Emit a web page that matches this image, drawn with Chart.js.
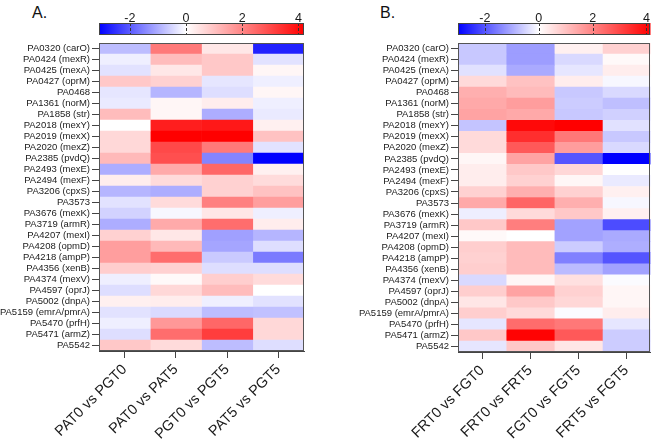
<!DOCTYPE html>
<html><head><meta charset="utf-8">
<script src="https://cdn.jsdelivr.net/npm/chart.js@4"></script>
<style>
body{margin:0;background:#fff;width:667px;height:448px;overflow:hidden;position:relative;font-family:Arial,"Liberation Sans",sans-serif}
canvas{position:absolute;top:0}
#ca{left:0}
#cb{left:333px}
.ttl{position:absolute;font-size:16px;line-height:16px;top:5px;color:#111;font-family:Arial,"Liberation Sans",sans-serif}
</style></head><body>
<div class="ttl" style="left:32px">A.</div>
<div class="ttl" style="left:380px">B.</div>
<canvas id="ca" width="333" height="448"></canvas>
<canvas id="cb" width="334" height="448"></canvas>
<script>
const genes = ['PA0320 (carO)','PA0424 (mexR)','PA0425 (mexA)','PA0427 (oprM)','PA0468','PA1361 (norM)','PA1858 (str)','PA2018 (mexY)','PA2019 (mexX)','PA2020 (mexZ)','PA2385 (pvdQ)','PA2493 (mexE)','PA2494 (mexF)','PA3206 (cpxS)','PA3573','PA3676 (mexK)','PA3719 (armR)','PA4207 (mexI)','PA4208 (opmD)','PA4218 (ampP)','PA4356 (xenB)','PA4374 (mexV)','PA4597 (oprJ)','PA5002 (dnpA)','PA5159 (emrA/pmrA)','PA5470 (prfH)','PA5471 (armZ)','PA5542'];

const colsA = ['PAT0 vs PGT0','PAT0 vs PAT5','PGT0 vs PGT5','PAT5 vs PGT5'];
const colsB = ['FRT0 vs FGT0','FRT0 vs FRT5','FGT0 vs FGT5','FRT5 vs FGT5'];

// Panel A log2 fold changes
const A_PAT0_PGT0 = [-0.8,-0.2,-0.35,0.9,-0.3,-0.25,1.1,0.0,0.65,0.65,1.15,-1.0,0.3,-0.9,-0.35,-0.55,-1.0,0.75,1.6,1.6,0.8,-0.2,-0.4,0.25,-0.35,-0.2,-0.4,0.9];
const A_PAT0_PAT5 = [2.2,1.1,0.4,0.75,-0.9,0.15,0.15,3.7,4.2,3.0,2.9,1.4,0.6,-1.0,0.6,-0.1,1.4,0.4,1.15,2.4,0.75,0.1,0.65,0.3,-0.45,1.7,2.4,0.6];
const A_PGT0_PGT5 = [0.4,0.9,0.9,-0.3,-0.4,0.3,-1.0,3.8,4.2,2.2,-1.5,2.5,0.75,0.75,2.1,0.4,2.4,-1.15,-1.1,-0.65,-0.4,0.8,1.1,-0.2,-0.8,2.5,3.2,-0.8];
const A_PAT5_PGT5 = [-2.7,-0.35,0.15,-0.2,0.15,-0.2,-0.25,0.25,1.0,-0.35,-3.1,0.25,0.6,1.0,1.6,-0.2,0.3,-0.9,-0.4,-1.6,-0.4,0.6,0.0,-0.35,-0.75,0.65,0.65,-0.4];

// Panel B log2 fold changes
const B_FRT0_FGT0 = [-0.65,-0.65,-0.35,0.6,1.3,1.4,1.5,-0.7,0.6,0.6,0.15,0.3,0.3,0.75,1.4,-0.2,0.9,0.1,0.8,0.75,0.8,-0.45,0.8,0.4,0.8,-0.3,0.9,-0.3];
const B_FRT0_FRT5 = [-1.15,-1.15,-1.0,1.0,1.1,1.6,1.4,4.0,3.4,2.7,1.5,0.9,0.75,1.3,2.5,0.6,2.1,0.0,1.1,1.1,1.1,0.15,1.5,0.9,0.6,2.4,4.1,0.9];
const B_FGT0_FGT5 = [0.25,-0.45,-0.3,0.3,-0.65,-0.6,-0.65,4.2,2.2,1.6,-2.0,0.65,0.15,0.75,1.3,0.9,-1.1,-1.1,-0.6,-1.5,-0.8,0.5,0.75,0.65,-0.05,2.2,2.7,0.4];
const B_FRT5_FGT5 = [0.75,0.1,0.3,-0.1,-0.45,-0.75,-0.55,-0.35,-0.65,-0.45,-3.0,0.0,-0.25,0.25,-0.1,0.25,-2.1,-1.0,-0.95,-2.0,-1.1,-0.05,0.15,0.15,0.3,-0.3,-0.6,-0.6];

const cbTicks = [-2, 0, 2, 4];
const rangeA = [-3.1, 4.2];
const rangeB = [-3.0, 4.15];

const FONT = 'Arial, "Liberation Sans", sans-serif';

function heat(v, lo, hi) {
  if (v >= 0) {
    const t = Math.min(1, v / hi);
    const g = Math.round(255 * (1 - t));
    return `rgb(255,${g},${g})`;
  }
  const t = Math.min(1, v / lo);
  const g = Math.round(255 * (1 - t));
  return `rgb(${g},${g},255)`;
}

const framePlugin = {
  id: 'frame',
  afterDraw(chart) {
    const ctx = chart.ctx;
    const a = chart.chartArea;
    const s = chart.scales.cb;
    const x0 = s.getPixelForValue(s.min), x1 = s.getPixelForValue(s.max);
    const y0 = 23, y1 = 35;
    ctx.save();
    const g = ctx.createLinearGradient(x0, 0, x1, 0);
    const z = (0 - s.min) / (s.max - s.min);
    g.addColorStop(0, 'rgb(0,0,255)');
    g.addColorStop(z, 'rgb(255,255,255)');
    g.addColorStop(1, 'rgb(255,0,0)');
    ctx.fillStyle = g;
    ctx.fillRect(x0, y0, x1 - x0, y1 - y0);
    ctx.strokeStyle = '#333';
    ctx.lineWidth = 1;
    ctx.setLineDash([3, 2]);
    cbTicks.forEach(v => {
      const px = Math.round(s.getPixelForValue(v)) + 0.5;
      ctx.beginPath(); ctx.moveTo(px, y0); ctx.lineTo(px, y1); ctx.stroke();
    });
    ctx.setLineDash([]);
    ctx.strokeStyle = '#444';
    ctx.strokeRect(Math.round(x0) + 0.5, y0 + 0.5, Math.round(x1 - x0) - 1, y1 - y0 - 1);
    ctx.strokeStyle = '#555';
    ctx.strokeRect(Math.round(a.left) + 0.5, Math.round(a.top) + 0.5, Math.round(a.right - a.left) - 1, Math.round(a.bottom - a.top) - 1);
    ctx.restore();
  }
};

function makeChart(id, cols, series, range, yWidth, rightPad, bottom) {
  new Chart(document.getElementById(id), {
    type: 'bar',
    data: {
      labels: genes,
      datasets: series.map((vals, c) => ({
        label: cols[c],
        data: vals.map(() => [c, c + 1]),
        backgroundColor: vals.map(v => heat(v, range[0], range[1])),
        borderWidth: 0,
        barPercentage: 1,
        categoryPercentage: 1,
        grouped: false
      }))
    },
    options: {
      indexAxis: 'y',
      responsive: false,
      animation: false,
      layout: { padding: { left: 0, right: rightPad, top: 0, bottom: 0 } },
      plugins: { legend: { display: false }, tooltip: { enabled: false } },
      scales: {
        y: {
          type: 'category',
          offset: true,
          grid: { display: true, drawOnChartArea: false, drawTicks: true, tickLength: 7, offset: false, color: '#444' },
          border: { display: true, color: '#444' },
          ticks: { font: { size: 9.5, family: FONT }, color: '#1a1a1a', padding: 2, autoSkip: false },
          afterFit(s) { s.width = yWidth; }
        },
        x: {
          type: 'linear', min: 0, max: 4, position: 'bottom',
          grid: { display: true, drawOnChartArea: false, tickLength: 7, color: '#444' },
          border: { display: true, color: '#444' },
          ticks: { font: { size: 14.5, family: FONT }, color: '#1a1a1a', maxRotation: 45, minRotation: 45, padding: 3,
                   callback: (v) => cols[Math.floor(v)] },
          afterBuildTicks(s) { s.ticks = [0.5, 1.5, 2.5, 3.5].map(v => ({ value: v })); },
          afterFit(s) { s.height = 448 - bottom; }
        },
        cb: {
          type: 'linear', axis: 'x', position: 'top', min: range[0], max: range[1],
          grid: { display: false, drawTicks: false },
          border: { display: false },
          ticks: { font: { size: 12.5, family: FONT }, color: '#1a1a1a', padding: 17, callback: v => String(v) },
          afterBuildTicks(s) { s.ticks = cbTicks.map(v => ({ value: v })); },
          afterFit(s) { s.height = 43; }
        }
      }
    },
    plugins: [framePlugin]
  });
}

makeChart('ca', colsA, [A_PAT0_PGT0, A_PAT0_PAT5, A_PGT0_PGT5, A_PAT5_PGT5], rangeA, 99, 29, 351);
makeChart('cb', colsB, [B_FRT0_FGT0, B_FRT0_FRT5, B_FGT0_FGT5, B_FRT5_FGT5], rangeB, 125, 3, 352);
</script>
</body></html>
